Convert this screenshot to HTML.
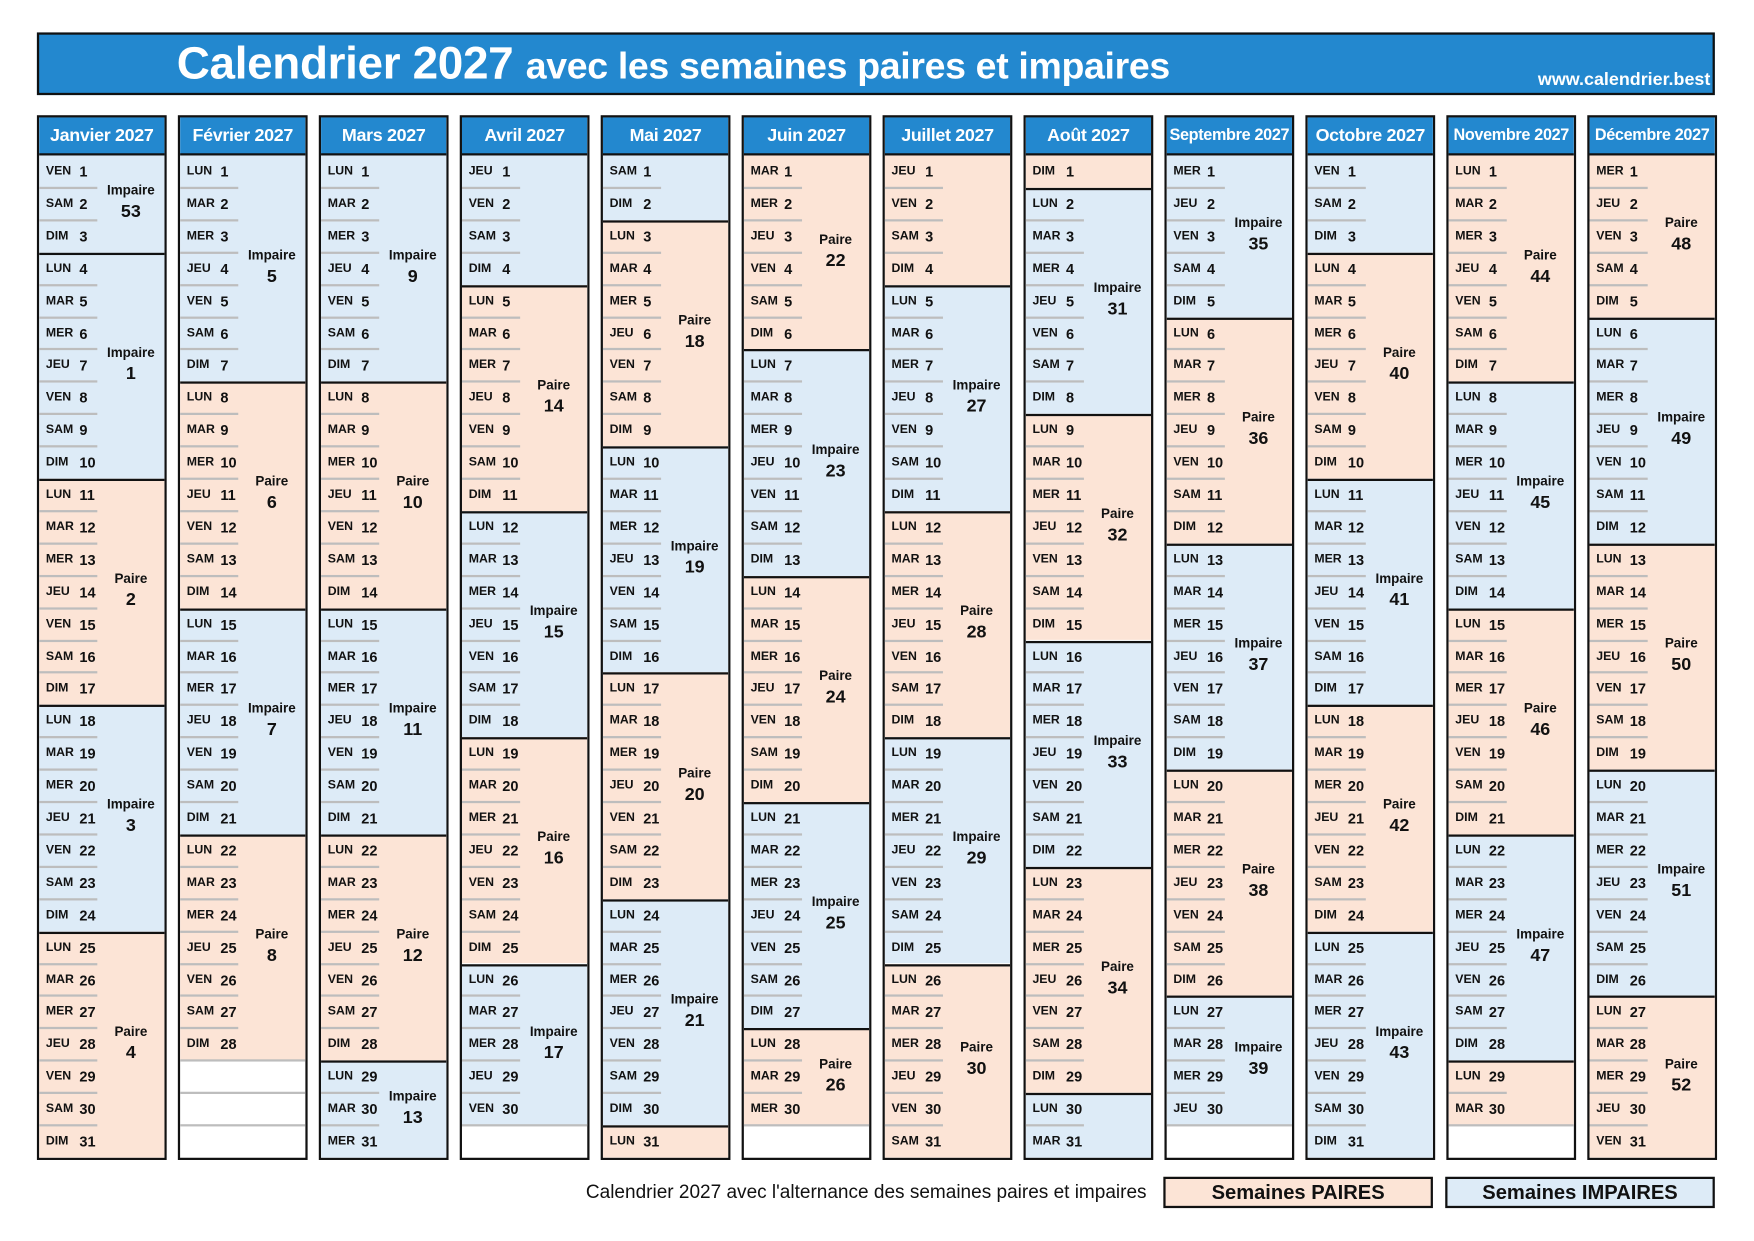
<!DOCTYPE html>
<html><head><meta charset="utf-8">
<style>
html,body{margin:0;padding:0;background:#fff;width:1754px;height:1240px;overflow:hidden}
#w{position:absolute;left:0;top:0;width:1568px;height:1109px;transform-origin:0 0;transform:scale(1.1186,1.1186);font-family:"Liberation Sans Narrow","Liberation Sans",sans-serif;font-weight:bold;color:#111}
.a{position:absolute;box-sizing:border-box}
.title{left:33px;top:29px;width:1500px;height:56px;background:#2388cf;border:2px solid #111}
.m{width:116px;top:103px;height:934px;border:2px solid #111;background:#fff;overflow:hidden}
.mh{left:0;top:0;width:112px;height:34px;background:#2388cf;border-bottom:2px solid #111;color:#fff;font-size:16px;text-align:center;line-height:33px;white-space:nowrap;letter-spacing:-0.3px}
.d{font-size:11px;line-height:29px;height:29px}
.dn{left:6px}
.dv{left:36px;font-size:13px}
.sep{height:2px;background:#bdbdbd;left:0;width:52px}
.wk{left:52px;width:60px;text-align:center}
.wk .l{font-size:12px}
.wk .n{font-size:16px;margin-top:4px}
</style></head><body>
<div id="w">
<div class="a title">
<div class="a" style="left:123px;top:2px;color:#fff;font-size:41px;white-space:nowrap;font-family:'Liberation Sans',sans-serif;letter-spacing:-0.3px">Calendrier 2027 <span style="font-size:33.5px">avec les semaines paires et impaires</span></div>
<div class="a" style="right:2px;top:32px;color:#fff;font-size:16px;font-family:'Liberation Sans',sans-serif">www.calendrier.best</div>
</div>
<div id="cal"></div>
<div class="a" style="left:300px;width:725px;top:1056px;text-align:right;font-size:17px;font-weight:normal;font-family:'Liberation Sans',sans-serif;white-space:nowrap">Calendrier 2027 avec l'alternance des semaines paires et impaires</div>
<div class="a" style="left:1040px;top:1052px;width:241px;height:28px;background:#fce4d6;border:2px solid #111;text-align:center;line-height:25px;font-size:18px">Semaines PAIRES</div>
<div class="a" style="left:1292px;top:1052px;width:241px;height:28px;background:#ddebf7;border:2px solid #111;text-align:center;line-height:25px;font-size:18px">Semaines IMPAIRES</div>
</div>
<script>
(function(){
var names=["Janvier","Février","Mars","Avril","Mai","Juin","Juillet","Août","Septembre","Octobre","Novembre","Décembre"];
var dn=["DIM","LUN","MAR","MER","JEU","VEN","SAM"];
function isoWeek(d){var t=new Date(Date.UTC(d.getFullYear(),d.getMonth(),d.getDate()));var day=t.getUTCDay()||7;t.setUTCDate(t.getUTCDate()+4-day);var y0=new Date(Date.UTC(t.getUTCFullYear(),0,1));return Math.ceil(((t-y0)/864e5+1)/7);}
var h="",RH=28.9;
for(var m=0;m<12;m++){
 var x=33+m*126;
 h+='<div class="a m" style="left:'+x+'px"><div class="a mh"'+(m==8||m==10||m==11?' style="font-size:14.5px"':'')+'>'+names[m]+' 2027</div>';
 var nd=new Date(2027,m+1,0).getDate();
 var blocks=[],cur=null;
 for(var d=1;d<=nd;d++){var dt=new Date(2027,m,d);var w=isoWeek(dt);
  if(!cur||cur.w!=w){cur={w:w,s:d,e:d};blocks.push(cur);}else cur.e=d;}
 blocks.forEach(function(b,i){
  var yy=34+(b.s-1)*RH, hh=(b.e-b.s+1)*RH, len=b.e-b.s+1;
  var bg=b.w%2==0?"#fce4d6":"#ddebf7";
  h+='<div class="a" style="left:0;top:'+yy+'px;width:112px;height:'+hh+'px;background:'+bg+(i>0?';border-top:2px solid #111':'')+'"></div>';
  var show=true;
  if(i==0&&m>0&&len<=4)show=false;
  if(i==blocks.length-1&&i>0&&len<=2)show=false;
  if(show)h+='<div class="a wk" style="top:'+(yy+hh/2-19)+'px"><div class="l">'+(b.w%2==0?"Paire":"Impaire")+'</div><div class="n">'+b.w+'</div></div>';
 });
 for(var r=1;r<=31;r++){
  var yy=34+(r-1)*RH;
  if(r<=nd){var dt2=new Date(2027,m,r);
   h+='<div class="a d dn" style="top:'+yy+'px">'+dn[dt2.getDay()]+'</div><div class="a d dv" style="top:'+yy+'px">'+r+'</div>';
   var nextNewWeek=(r<nd&&new Date(2027,m,r+1).getDay()==1);
   if(r<31&&!nextNewWeek)h+='<div class="a sep" style="top:'+(yy+RH-1)+'px'+(r>=nd?';width:112px':'')+'"></div>';
  }else if(r<31){h+='<div class="a sep" style="top:'+(yy+RH-1)+'px;width:112px"></div>';}
 }
 h+='</div>';
}
document.getElementById("cal").innerHTML=h;
})();
</script>
</body></html>
